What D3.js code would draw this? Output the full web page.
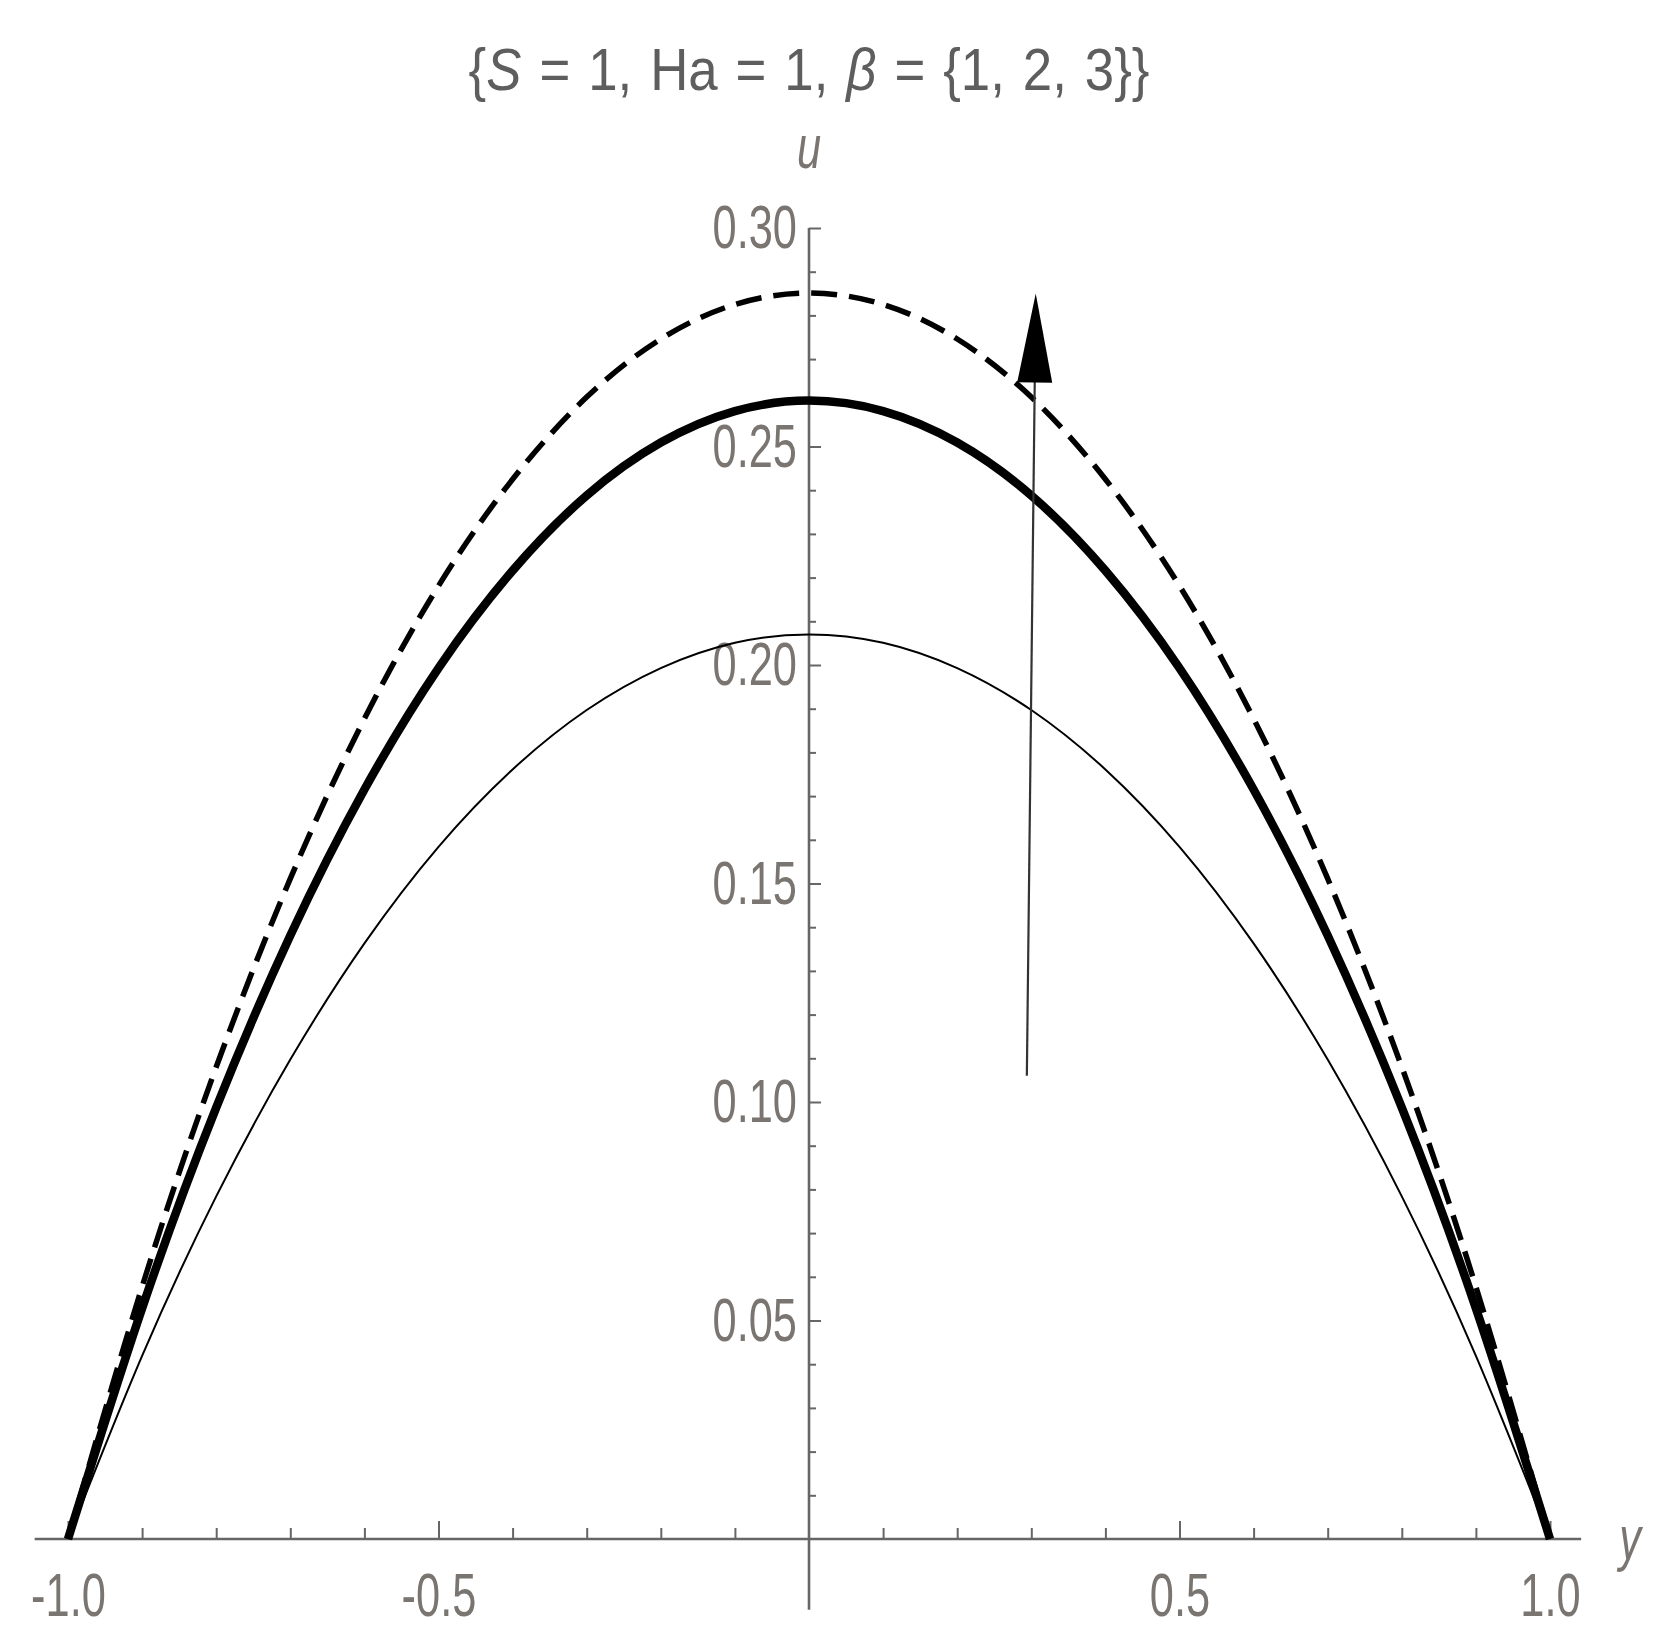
<!DOCTYPE html>
<html>
<head>
<meta charset="utf-8">
<script src="https://cdn.jsdelivr.net/npm/d3@7"></script>
<style>
body { margin: 0; background: #fff; }
</style>
</head>
<body>
<div id="chart-area"></div>
<script>

// channel coordinate y, and velocity u for beta = 1, 2, 3
var yPos   = [-1.0, -0.9, -0.8, -0.7, -0.6, -0.5, -0.4, -0.3, -0.2, -0.1, 0.0,
               0.1,  0.2,  0.3,  0.4,  0.5,  0.6,  0.7,  0.8,  0.9, 1.0]
var uBeta1 = [0, 0.0419, 0.0784, 0.1097, 0.1363, 0.1584, 0.1761, 0.1897, 0.1993, 0.2051, 0.2070,
              0.2051, 0.1993, 0.1897, 0.1761, 0.1584, 0.1363, 0.1097, 0.0784, 0.0419, 0]
var uBeta2 = [0, 0.0528, 0.0987, 0.1381, 0.1715, 0.1993, 0.2216, 0.2388, 0.2509, 0.2581, 0.2605,
              0.2581, 0.2509, 0.2388, 0.2216, 0.1993, 0.1715, 0.1381, 0.0987, 0.0528, 0]
var uBeta3 = [0, 0.0577, 0.1080, 0.1511, 0.1877, 0.2181, 0.2425, 0.2613, 0.2746, 0.2825, 0.2851,
              0.2825, 0.2746, 0.2613, 0.2425, 0.2181, 0.1877, 0.1511, 0.1080, 0.0577, 0]

var xTicks = [-1.0, -0.5, 0.5, 1.0]
var xTickLabels = ["-1.0", "-0.5", "0.5", "1.0"]
var xMinor = [-0.9, -0.8, -0.7, -0.6, -0.4, -0.3, -0.2, -0.1, 0.1, 0.2, 0.3, 0.4, 0.6, 0.7, 0.8, 0.9]
var yTicks = [0.05, 0.10, 0.15, 0.20, 0.25, 0.30]
var yTickLabels = ["0.05", "0.10", "0.15", "0.20", "0.25", "0.30"]
var yMinor = d3.range(1, 30).map(function(i){ return i / 100 }).filter(function(v){ return Math.round(v * 100) % 5 != 0 })

// arrow: from (y, u) to (y, u)
var arrowFrom = [0.294, 0.106]
var arrowTo = [0.306, 0.285]

var canvasWidth = 1668
var canvasHeight = 1649
var plot = {left: 68, right: 1550, top: 228, bottom: 1539}
var axisColor = "#666"
var labelColor = "#7a7570"
var squeeze = 0.7

var svg = d3.select("#chart-area")
	.append("svg")
	.attr("width", canvasWidth)
	.attr("height", canvasHeight)
	.style("font-family", "'Liberation Sans', Arial, sans-serif")

var x = d3.scaleLinear().domain([-1, 1]).range([plot.left, plot.right])
var y = d3.scaleLinear().domain([0, 0.30]).range([plot.bottom, plot.top])

// axis lines
svg.append("line")
	.attr("x1", x(-1.045)).attr("x2", x(1.042))
	.attr("y1", y(0)).attr("y2", y(0))
	.attr("stroke", axisColor).attr("stroke-width", 2.6)
svg.append("line")
	.attr("x1", x(0)).attr("x2", x(0))
	.attr("y1", y(0.30)).attr("y2", y(-0.0162))
	.attr("stroke", axisColor).attr("stroke-width", 2.6)

// minor ticks
svg.append("g")
	.attr("transform", "translate(0," + y(0) + ")")
	.call(d3.axisBottom(x).tickValues(xMinor).tickSizeInner(-11).tickSizeOuter(0).tickFormat(""))
	.call(function(g){ g.select(".domain").remove() })
	.selectAll("line").attr("stroke", axisColor).attr("stroke-width", 2)
svg.append("g")
	.attr("transform", "translate(" + x(0) + ",0)")
	.call(d3.axisLeft(y).tickValues(yMinor).tickSizeInner(-7).tickSizeOuter(0).tickFormat(""))
	.call(function(g){ g.select(".domain").remove() })
	.selectAll("line").attr("stroke", axisColor).attr("stroke-width", 2)

// major ticks + labels
var xAxis = svg.append("g")
	.attr("transform", "translate(0," + y(0) + ")")
	.call(d3.axisBottom(x).tickValues(xTicks).tickSizeInner(-18).tickSizeOuter(0).tickPadding(33)
		.tickFormat(function(d, i){ return xTickLabels[i] }))
xAxis.select(".domain").remove()
xAxis.selectAll("line").attr("stroke", axisColor).attr("stroke-width", 2)

var yAxis = svg.append("g")
	.attr("transform", "translate(" + x(0) + ",0)")
	.call(d3.axisLeft(y).tickValues(yTicks).tickSizeInner(-12).tickSizeOuter(0).tickPadding(12)
		.tickFormat(function(d, i){ return yTickLabels[i] }))
yAxis.select(".domain").remove()
yAxis.selectAll("line").attr("stroke", axisColor).attr("stroke-width", 2)

svg.selectAll(".tick text")
	.attr("fill", labelColor)
	.attr("font-size", "62px")
	.attr("font-family", "'Liberation Sans', Arial, sans-serif")
	.each(function(){
		var t = d3.select(this)
		var xx = +t.attr("x") || 0
		t.attr("x", xx / squeeze).attr("transform", "scale(" + squeeze + ",1)")
	})

// curves
var line = function(vals){
	return d3.line()
		.x(function(d, i){ return x(yPos[i]) })
		.y(function(d){ return y(d) })
		.curve(d3.curveNatural)(vals)
}

svg.append("path")
	.attr("d", line(uBeta1))
	.attr("fill", "none").attr("stroke", "#000").attr("stroke-width", 2)
svg.append("path")
	.attr("d", line(uBeta2))
	.attr("fill", "none").attr("stroke", "#000").attr("stroke-width", 8.5)
svg.append("path")
	.attr("d", line(uBeta3))
	.attr("fill", "none").attr("stroke", "#000").attr("stroke-width", 5.5)
	.attr("stroke-dasharray", "26,12")

// arrow
var p0 = [x(arrowFrom[0]), y(arrowFrom[1])]
var p1 = [x(arrowTo[0]), y(arrowTo[1])]
var dx = p1[0] - p0[0], dy = p1[1] - p0[1]
var len = Math.sqrt(dx * dx + dy * dy)
var ux = dx / len, uy = dy / len
var headLen = 89, headHalf = 17.5
var base = [p1[0] - ux * headLen, p1[1] - uy * headLen]
svg.append("line")
	.attr("x1", p0[0]).attr("y1", p0[1])
	.attr("x2", base[0] + ux * 4).attr("y2", base[1] + uy * 4)
	.attr("stroke", "#333").attr("stroke-width", 2.2)
svg.append("path")
	.attr("d", "M" + p1[0] + "," + p1[1] +
		"L" + (base[0] - uy * headHalf) + "," + (base[1] + ux * headHalf) +
		"L" + (base[0] + uy * headHalf) + "," + (base[1] - ux * headHalf) + "Z")
	.attr("fill", "#000")

// axis labels
function squeezedText(cx, cy, size, italic, txt, color){
	var g = svg.append("g").attr("transform", "translate(" + cx + "," + cy + ") scale(" + squeeze + ",1)")
	g.append("text")
		.attr("text-anchor", "middle")
		.attr("font-size", size + "px")
		.attr("font-style", italic ? "italic" : "normal")
		.attr("fill", color)
		.text(txt)
}
squeezedText(x(0), 168, 62, true, "u", labelColor)
squeezedText(1630, 1559, 62, true, "y", labelColor)

// title: slightly narrow glyphs, a bit more room between words
var titleParts = [["{", false], ["S", true], [" = 1, Ha = 1, ", false], ["\u03B2", true], [" = {1, 2, 3}}", false]]
var titleScale = 0.88
var titleWidth = 681
var titleG = svg.append("g")
var title = titleG.append("text")
	.attr("text-anchor", "middle")
	.attr("font-size", "60px")
	.attr("fill", "#5e5e5e")
title.selectAll("tspan")
	.data(titleParts)
	.enter().append("tspan")
		.attr("font-style", function(d){ return d[1] ? "italic" : "normal" })
		.text(function(d){ return d[0] })
var tw = title.node().getComputedTextLength()
title.style("word-spacing", Math.max(0, (titleWidth / titleScale - tw) / 10) + "px")
tw = title.node().getComputedTextLength()
titleG.attr("transform", "translate(" + x(0) + ",90) scale(" + (titleWidth / tw) + ",1)")

</script>
</body>
</html>
